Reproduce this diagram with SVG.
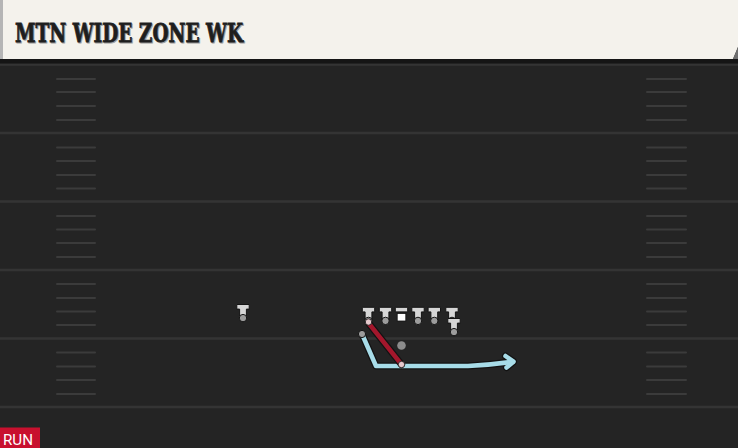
<svg xmlns="http://www.w3.org/2000/svg" xmlns:xlink="http://www.w3.org/1999/xlink" width="738" height="448" viewBox="0 0 738 448">
<defs>
<style>
.yard{stroke:#343434;stroke-width:2.5}
.hash{stroke:#3b3b3b;stroke-width:2;stroke-linecap:round}
.tbody{fill:#d6d6d6;stroke:#141414;stroke-width:1}
.pdot{fill:#9c9c9c;stroke:#141414;stroke-width:1}
.outline{fill:none;stroke:#121212;stroke-width:7;stroke-linecap:round;stroke-linejoin:round}
.blue{fill:none;stroke:#a7dce8;stroke-width:4.5;stroke-linecap:round;stroke-linejoin:round}
.red{fill:none;stroke:#a3172c;stroke-width:4.5;stroke-linecap:round}
.enddot{fill:#e6c9cd;stroke:#141414;stroke-width:0.8}
.title{font-family:"DejaVu Serif",serif;font-weight:bold;font-size:26px}
</style>
<g id="tshape">
<path class="tbody" d="M-6.2,0 h12.4 v4.6 h-2.8 v8.6 h-6.8 v-8.6 h-2.8 z"/>
<circle class="pdot" cx="0" cy="13.6" r="3.7"/>
</g>
</defs>

<rect x="0" y="0" width="738" height="448" fill="#242424"/>

<g id="field">
<line class="yard" x1="0" y1="64.5" x2="738" y2="64.5"/>
<line class="yard" x1="0" y1="133" x2="738" y2="133"/>
<line class="yard" x1="0" y1="201.5" x2="738" y2="201.5"/>
<line class="yard" x1="0" y1="270" x2="738" y2="270"/>
<line class="yard" x1="0" y1="338.5" x2="738" y2="338.5"/>
<line class="yard" x1="0" y1="407" x2="738" y2="407"/>
<g id="hashes">
<path class="hash" d="M57,79H95M57,92H95M57,106H95M57,120H95M57,147.5H95M57,161H95M57,175H95M57,188.5H95M57,216H95M57,229.5H95M57,243H95M57,257H95M57,284H95M57,298H95M57,311.5H95M57,325H95M57,352.5H95M57,366.5H95M57,380H95M57,394H95"/>
<path class="hash" d="M647,79H686M647,92H686M647,106H686M647,120H686M647,147.5H686M647,161H686M647,175H686M647,188.5H686M647,216H686M647,229.5H686M647,243H686M647,257H686M647,284H686M647,298H686M647,311.5H686M647,325H686M647,352.5H686M647,366.5H686M647,380H686M647,394H686"/>
</g>
</g>

<g id="header">
<rect x="0" y="59" width="738" height="4.5" fill="#151515"/>
<path d="M0,0 H738 V47 L733,59 H0 Z" fill="#f4f2ec"/>
<path d="M738,47 L733,59 H738 Z" fill="#6e6e6e"/>
<rect x="0" y="0" width="3" height="59" fill="#b5b5b5"/>
<text class="title" x="16" y="43.3" fill="#a0a0a0" stroke="#a0a0a0" stroke-width="0.8" textLength="228" lengthAdjust="spacingAndGlyphs">MTN WIDE ZONE WK</text>
<text class="title" x="15" y="42.3" fill="#1e1e1e" stroke="#1e1e1e" stroke-width="0.8" textLength="228" lengthAdjust="spacingAndGlyphs">MTN WIDE ZONE WK</text>
</g>

<g id="connectors">
<path class="outline" d="M362,334 L376,366 L468,366 Q490,365 513,361.7"/>
<path class="outline" d="M505.5,356 L513.5,361.7 L506.5,367.5"/>
<path class="blue" d="M362,334 L376,366 L468,366 Q490,365 513,361.7"/>
<path class="blue" d="M505.5,356 L513.5,361.7 L506.5,367.5"/>
<line class="outline" x1="368.5" y1="323" x2="401.5" y2="364.5"/>
<line class="red" x1="368.5" y1="323" x2="401.5" y2="364.5"/>
<circle class="enddot" cx="401.5" cy="364.5" r="3.2"/>
</g>

<g id="wr"><use xlink:href="#tshape" href="#tshape" x="243" y="304.5"/></g>
<g id="lt"><use xlink:href="#tshape" href="#tshape" x="368.5" y="307.3"/><circle class="enddot" cx="368.5" cy="322" r="3.2"/></g>
<g id="lg"><use xlink:href="#tshape" href="#tshape" x="385.5" y="307.3"/></g>
<g id="c">
<path class="tbody" d="M395.3,307.3 h12.4 v4.6 h-12.4 z"/>
<rect x="397.2" y="313.5" width="8.6" height="7.5" fill="#ffffff" stroke="#141414" stroke-width="0.8"/>
</g>
<g id="rg"><use xlink:href="#tshape" href="#tshape" x="418" y="307.3"/></g>
<g id="rt"><use xlink:href="#tshape" href="#tshape" x="434.3" y="307.3"/></g>
<g id="te"><use xlink:href="#tshape" href="#tshape" x="452" y="307.3"/></g>
<g id="wing"><use xlink:href="#tshape" href="#tshape" x="454" y="318.5"/></g>
<g id="rb"><circle class="pdot" cx="362" cy="334" r="3.6"/></g>
<g id="qb"><circle cx="401.5" cy="345.5" r="4.3" fill="#8c8c8c"/></g>

<g id="tag">
<rect x="0" y="427.5" width="40" height="20.5" fill="#c8102e"/>
<text x="3" y="445" font-family="Roboto,'Liberation Sans',sans-serif" font-size="15.5" fill="#ffffff" textLength="30" lengthAdjust="spacingAndGlyphs">RUN</text>
</g>
</svg>
